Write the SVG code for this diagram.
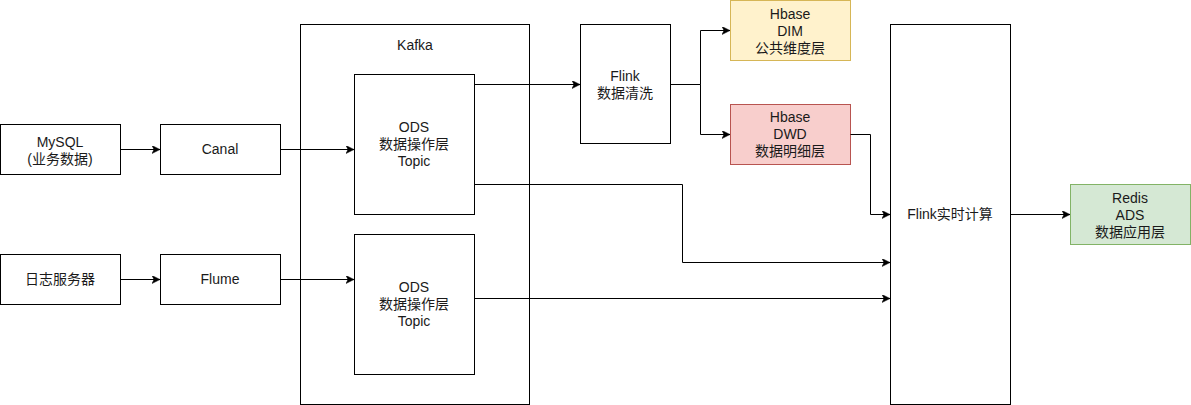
<svg xmlns="http://www.w3.org/2000/svg" width="1191" height="405" viewBox="0 0 1191 405">
<style>
.box{fill:#ffffff;stroke:#000000;stroke-width:1}
.t{font-family:"Liberation Sans","Noto Sans CJK SC",sans-serif;font-size:14px;fill:#1a1a1a;text-anchor:middle}
.c{fill:none;stroke:#000000;stroke-width:1}
</style>
<defs>
<marker id="arr" markerUnits="userSpaceOnUse" markerWidth="10" markerHeight="10" refX="8" refY="4" orient="auto">
<path d="M0,0 L8,4 L0,8 L2,4 Z" fill="#000000" stroke="#000000" stroke-width="0.5"/>
</marker>
</defs>
<rect width="1191" height="405" fill="#ffffff"/>
<g id="kafka"><rect class="box" x="300.5" y="24.5" width="229" height="380"/><text class="t" x="415" y="50">Kafka</text></g>
<g id="mysql"><rect class="box" x="0.5" y="124.5" width="120" height="50"/><text class="t" x="60" y="146.5">MySQL</text><text class="t" x="60" y="164">(业务数据)</text></g>
<g id="canal"><rect class="box" x="160.5" y="124.5" width="120" height="50"/><text class="t" x="220" y="154">Canal</text></g>
<g id="logserver"><rect class="box" x="0.5" y="254.5" width="120" height="50"/><text class="t" x="60" y="284">日志服务器</text></g>
<g id="flume"><rect class="box" x="160.5" y="254.5" width="120" height="50"/><text class="t" x="220" y="284">Flume</text></g>
<g id="ods1"><rect class="box" x="354.5" y="74.5" width="120" height="140"/><text class="t" x="414" y="132">ODS</text><text class="t" x="414" y="149">数据操作层</text><text class="t" x="414" y="166">Topic</text></g>
<g id="ods2"><rect class="box" x="354.5" y="234.5" width="120" height="140"/><text class="t" x="414" y="292">ODS</text><text class="t" x="414" y="309">数据操作层</text><text class="t" x="414" y="326">Topic</text></g>
<g id="flinkclean"><rect class="box" x="580.5" y="24.5" width="90" height="119"/><text class="t" x="625" y="81">Flink</text><text class="t" x="625" y="98">数据清洗</text></g>
<g id="dim"><rect x="730.5" y="0.5" width="120" height="60" fill="#fff2cc" stroke="#d6b656"/><text class="t" x="790" y="18.5">Hbase</text><text class="t" x="790" y="35.5">DIM</text><text class="t" x="790" y="52.5">公共维度层</text></g>
<g id="dwd"><rect x="730.5" y="104.5" width="120" height="60" fill="#f8cecc" stroke="#b85450"/><text class="t" x="790" y="122">Hbase</text><text class="t" x="790" y="139">DWD</text><text class="t" x="790" y="156">数据明细层</text></g>
<g id="flinkrt"><rect class="box" x="890.5" y="24.5" width="120" height="380"/><text class="t" x="950" y="219">Flink实时计算</text></g>
<g id="ads"><rect x="1070.5" y="184.5" width="120" height="60" fill="#d5e8d4" stroke="#82b366"/><text class="t" x="1130" y="202.5">Redis</text><text class="t" x="1130" y="219.5">ADS</text><text class="t" x="1130" y="236.5">数据应用层</text></g>
<g id="connectors">
<path class="c" d="M120.5,149.5 H160" marker-end="url(#arr)"/>
<path class="c" d="M280.5,149.5 H354" marker-end="url(#arr)"/>
<path class="c" d="M120.5,279.5 H160" marker-end="url(#arr)"/>
<path class="c" d="M280.5,279.5 H354" marker-end="url(#arr)"/>
<path class="c" d="M474.5,84.5 H580" marker-end="url(#arr)"/>
<path class="c" d="M670.5,84.5 H700.5 V30.5 H730" marker-end="url(#arr)"/>
<path class="c" d="M670.5,84.5 H700.5 V134.5 H730" marker-end="url(#arr)"/>
<path class="c" d="M850.5,134.5 H870.5 V214.5 H890" marker-end="url(#arr)"/>
<path class="c" d="M474.5,184.5 H682.5 V262.5 H890" marker-end="url(#arr)"/>
<path class="c" d="M474.5,298.5 H890" marker-end="url(#arr)"/>
<path class="c" d="M1010.5,214.5 H1070" marker-end="url(#arr)"/>
</g>
</svg>
